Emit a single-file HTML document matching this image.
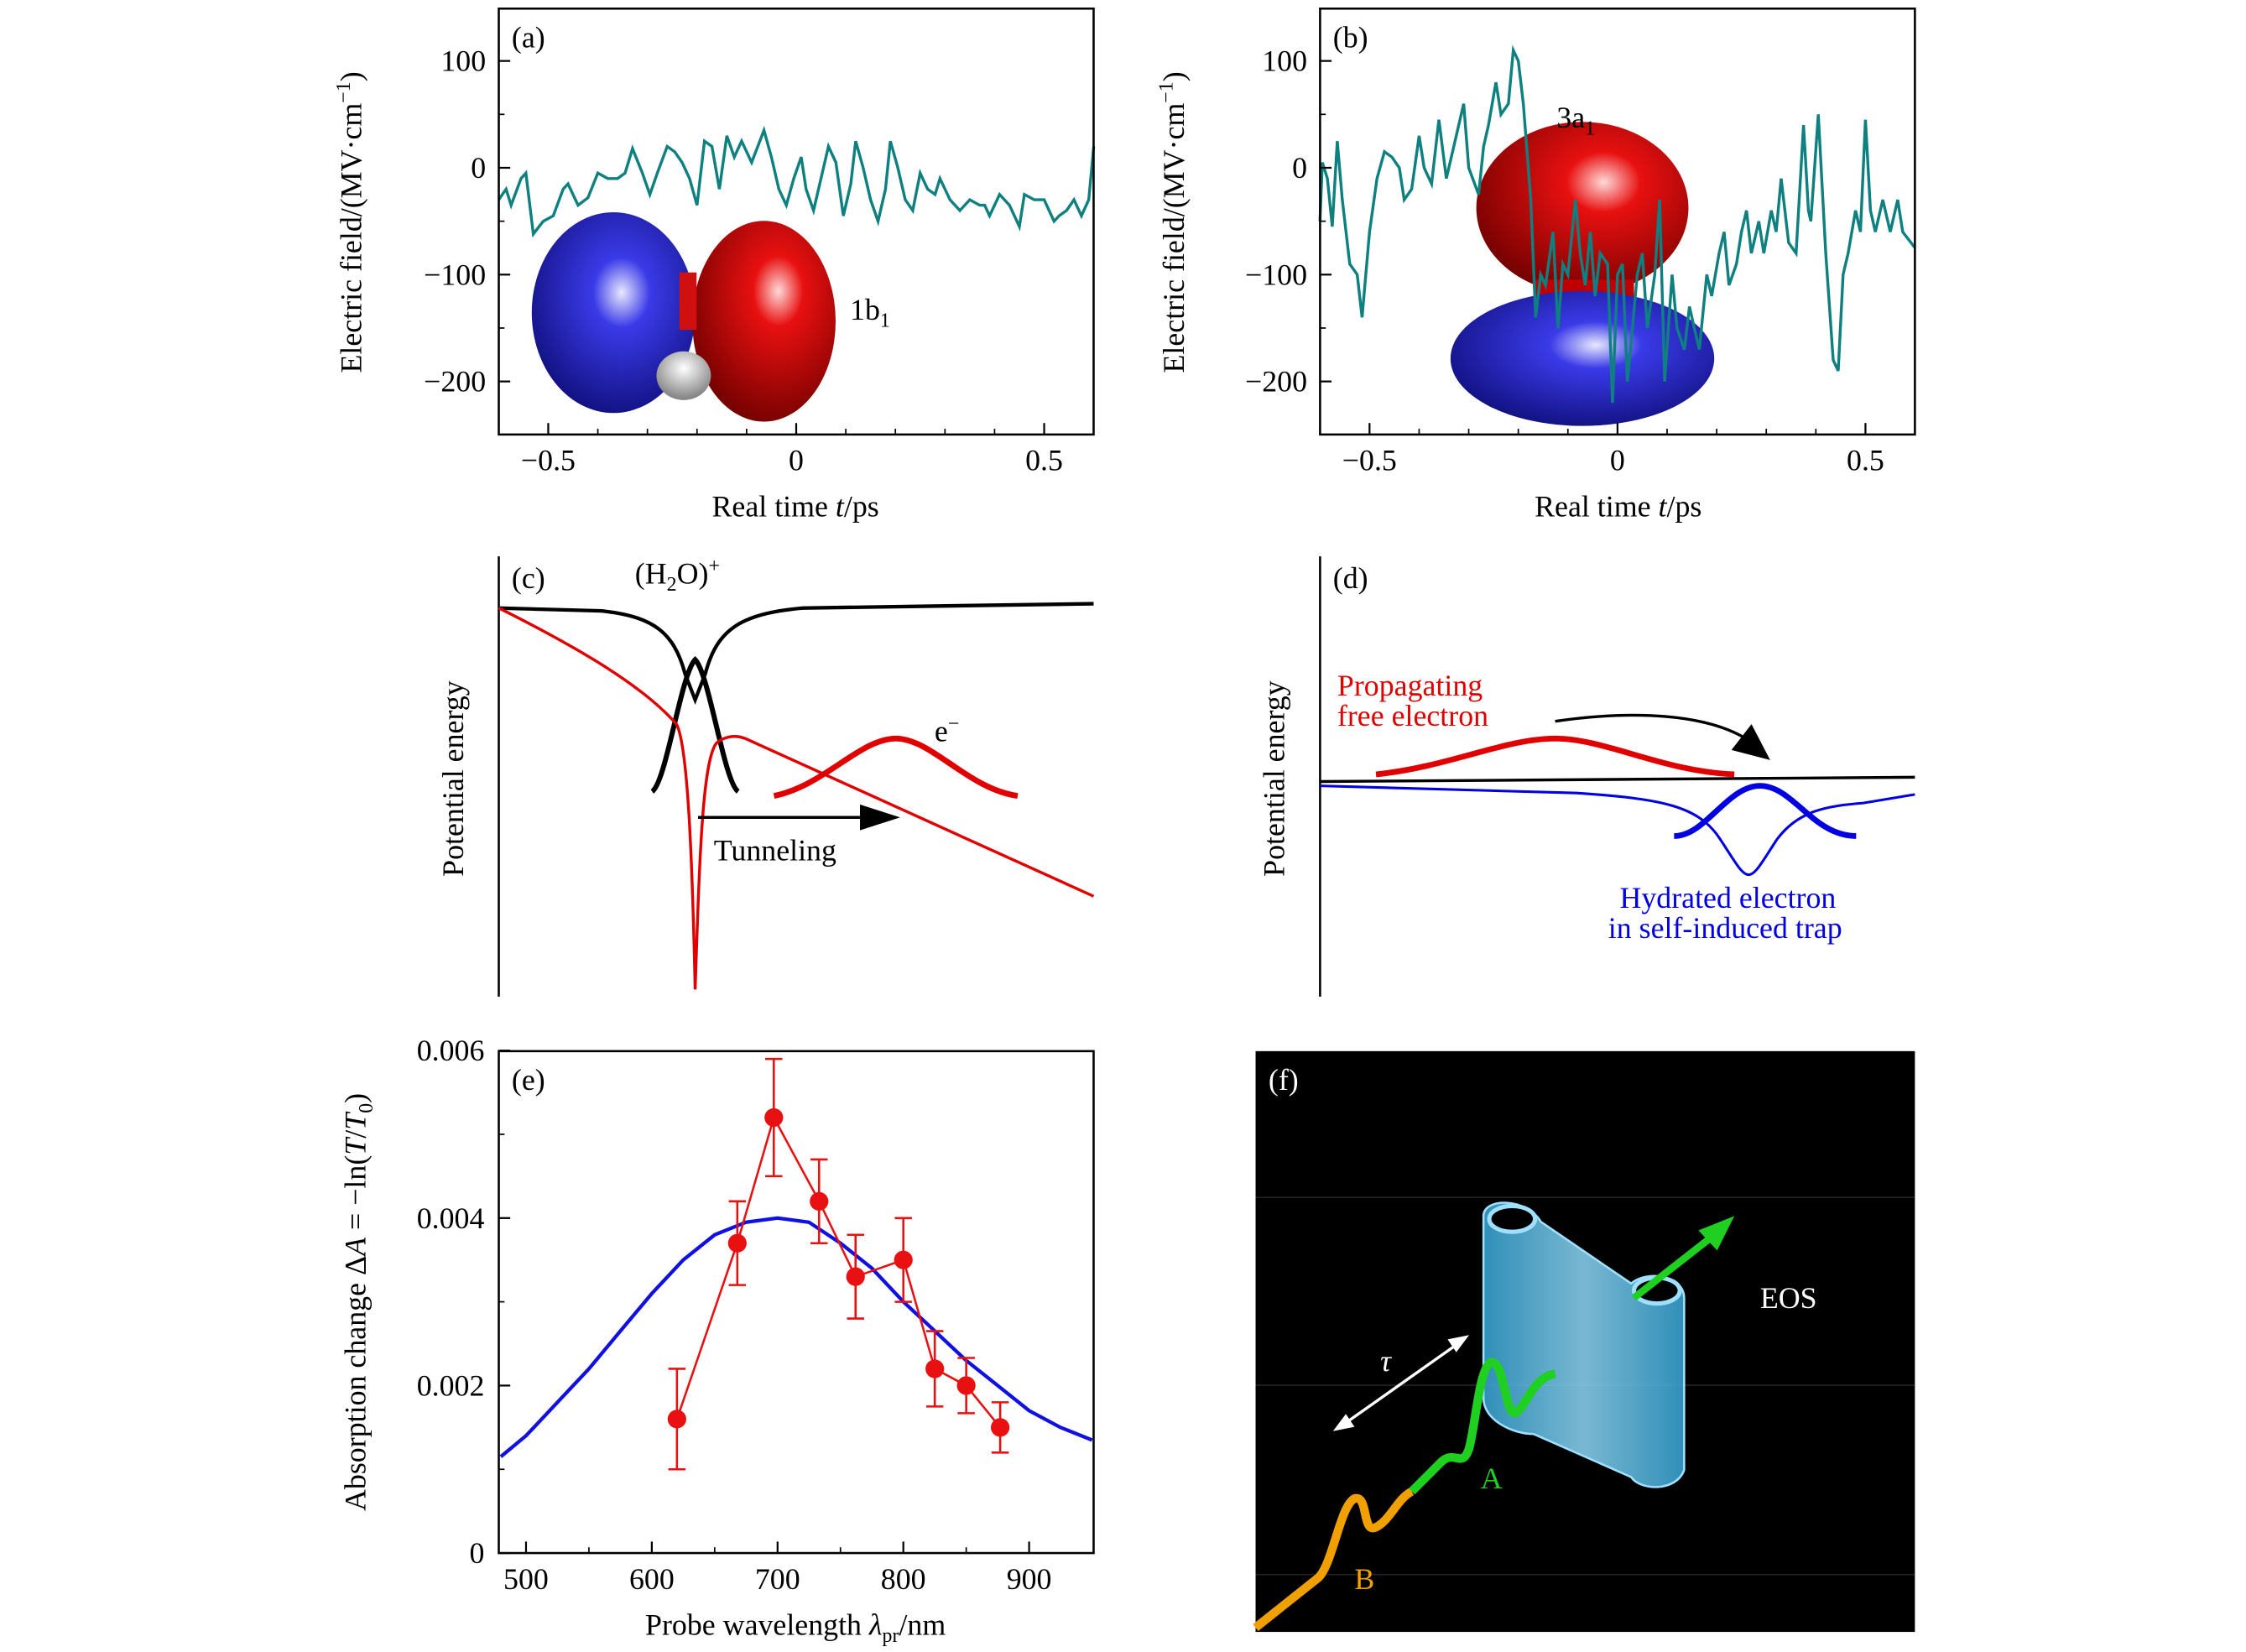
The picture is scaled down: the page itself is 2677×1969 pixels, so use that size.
<!DOCTYPE html>
<html><head><meta charset="utf-8">
<style>
html,body{margin:0;padding:0;background:#fff;}
svg{display:block;font-family:"Liberation Serif",serif;}
</style></head>
<body>
<svg id="fig" width="2677" height="1969" viewBox="0 0 1567 1152" preserveAspectRatio="none" xmlns="http://www.w3.org/2000/svg">
<defs>
<radialGradient id="gBlue" cx="0.55" cy="0.4" r="0.7"><stop offset="0" stop-color="#e8e8ff"/><stop offset="0.25" stop-color="#3a3ae8"/><stop offset="1" stop-color="#0a0a70"/></radialGradient>
<radialGradient id="gRed" cx="0.6" cy="0.35" r="0.7"><stop offset="0" stop-color="#ffd8d8"/><stop offset="0.25" stop-color="#e81010"/><stop offset="1" stop-color="#700000"/></radialGradient>
<radialGradient id="gWhite" cx="0.5" cy="0.35" r="0.6"><stop offset="0" stop-color="#fff"/><stop offset="1" stop-color="#888"/></radialGradient>
<linearGradient id="gCyan" x1="0" x2="1"><stop offset="0" stop-color="#3aa8d8"/><stop offset="0.5" stop-color="#8ed8f8"/><stop offset="1" stop-color="#3aa8d8"/></linearGradient>
</defs>

<!-- Panel A -->
<g>
  <ellipse cx="428" cy="218" rx="57" ry="70" fill="url(#gBlue)"/>
  <ellipse cx="533" cy="224" rx="50" ry="70" fill="url(#gRed)"/>
  <rect x="474" y="190" width="12" height="40" fill="#d01010"/>
  <ellipse cx="477" cy="262" rx="19" ry="17" fill="url(#gWhite)"/>
  <text x="593" y="223" font-size="21">1b<tspan font-size="14" dy="5">1</tspan></text>
  <g id="axA"></g>
  <text x="357" y="33" font-size="21">(a)</text>
  <text x="555" y="360" font-size="21" text-anchor="middle">Real time <tspan font-style="italic">t</tspan>/ps</text>
  <text transform="translate(252,155) rotate(-90)" font-size="21" text-anchor="middle">Electric field/(MV·cm<tspan font-size="14" dy="-8">−1</tspan><tspan dy="8">)</tspan></text>
</g>

<!-- Panel B -->
<g>
  <ellipse cx="1104" cy="145" rx="74" ry="60" fill="url(#gRed)"/>
  <rect x="1070" y="195" width="70" height="18" fill="#c00000"/>
  <ellipse cx="1104" cy="250" rx="92" ry="47" fill="url(#gBlue)"/>
  <text x="1086" y="89" font-size="21">3a<tspan font-size="14" dy="5">1</tspan></text>
  <g id="axB"></g>
  <text x="930" y="33" font-size="21">(b)</text>
  <text x="1129" y="360" font-size="21" text-anchor="middle">Real time <tspan font-style="italic">t</tspan>/ps</text>
  <text transform="translate(826,155) rotate(-90)" font-size="21" text-anchor="middle">Electric field/(MV·cm<tspan font-size="14" dy="-8">−1</tspan><tspan dy="8">)</tspan></text>
</g>

<!-- Panel C -->
<g>
  <line x1="348" y1="388" x2="348" y2="695" stroke="#000" stroke-width="1.5"/>
  <text x="357" y="410" font-size="21">(c)</text>
  <text x="443" y="407" font-size="21">(H<tspan font-size="14" dy="5">2</tspan><tspan dy="-5">O)</tspan><tspan font-size="14" dy="-8">+</tspan></text>
  <path d="M348,424 L420,426 C455,430 470,440 478,470 L485,488 L492,470 C500,440 515,428 560,424 L763,421" fill="none" stroke="#000" stroke-width="2.5"/>
  <path d="M455,552 C465,545 475,470 485,460 C495,470 505,545 515,552" fill="none" stroke="#000" stroke-width="3.5"/>
  <path d="M348,424 C410,455 450,480 472,505 C480,520 483,600 485,690 C488,600 490,530 500,518 C505,514 512,512 520,515 L763,625" fill="none" stroke="#e00000" stroke-width="2"/>
  <path d="M540,555 C575,548 600,515 625,515 C650,515 675,550 710,555" fill="none" stroke="#e00000" stroke-width="4"/>
  <text x="652" y="517" font-size="21">e<tspan font-size="14" dy="-8">−</tspan></text>
  <line x1="487" y1="570" x2="605" y2="570" stroke="#000" stroke-width="2"/>
  <polygon points="628,570 600,561 600,579" fill="#000"/>
  <text x="498" y="600" font-size="21">Tunneling</text>
  <text transform="translate(323,543) rotate(-90)" font-size="21" text-anchor="middle">Potential energy</text>
</g>

<!-- Panel D -->
<g>
  <line x1="921" y1="388" x2="921" y2="695" stroke="#000" stroke-width="1.5"/>
  <text x="930" y="410" font-size="21">(d)</text>
  <line x1="921" y1="545" x2="1336" y2="542" stroke="#000" stroke-width="2"/>
  <path d="M960,540 C1010,535 1050,515 1085,515 C1120,515 1160,538 1210,540" fill="none" stroke="#e00000" stroke-width="4"/>
  <path d="M1085,503 C1140,495 1190,498 1218,515" fill="none" stroke="#000" stroke-width="2"/>
  <polygon points="1235,530 1208,523 1222,505" fill="#000"/>
  <text x="933" y="485" font-size="21" fill="#e00000">Propagating</text>
  <text x="933" y="506" font-size="21" fill="#e00000">free electron</text>
  <path d="M921,548 L1100,553 C1160,557 1185,562 1200,585 C1210,600 1215,610 1220,610 C1225,610 1230,600 1240,585 C1255,565 1275,562 1300,560 L1336,554" fill="none" stroke="#0000e0" stroke-width="1.8"/>
  <path d="M1168,583 C1190,583 1205,548 1228,548 C1251,548 1265,583 1295,583" fill="none" stroke="#0000e0" stroke-width="4"/>
  <text x="1130" y="633" font-size="21" fill="#0000e0">Hydrated electron</text>
  <text x="1122" y="654" font-size="21" fill="#0000e0">in self-induced trap</text>
  <text transform="translate(896,543) rotate(-90)" font-size="21" text-anchor="middle">Potential energy</text>
</g>

<!-- Panel E -->
<g>
  <g id="axE"></g>
  <text x="357" y="760" font-size="21">(e)</text>
  <text x="555" y="1140" font-size="21" text-anchor="middle">Probe wavelength <tspan font-style="italic">λ</tspan><tspan font-size="14" dy="5">pr</tspan><tspan dy="-5">/nm</tspan></text>
  <text transform="translate(255,908) rotate(-90)" font-size="21" text-anchor="middle">Absorption change Δ<tspan font-style="italic">A</tspan> = −ln(<tspan font-style="italic">T</tspan>/<tspan font-style="italic">T</tspan><tspan font-size="14" dy="5">0</tspan><tspan dy="-5">)</tspan></text>
</g>

<!-- Panel F -->
<g>
  <rect x="876" y="733" width="460" height="405" fill="#000"/>
  <line x1="876" y1="835" x2="1336" y2="835" stroke="#222" stroke-width="1"/>
  <line x1="876" y1="966" x2="1336" y2="966" stroke="#222" stroke-width="1"/>
  <line x1="876" y1="1098" x2="1336" y2="1098" stroke="#222" stroke-width="1"/>
  <text x="885" y="760" font-size="21" fill="#fff">(f)</text>
  <path d="M1035,848 L1035,975 C1035,990 1055,1000 1070,1000 L1138,1030 C1145,1040 1170,1040 1175,1025 L1175,905 C1175,890 1150,885 1138,895 L1075,852 C1065,835 1035,835 1035,848 Z" fill="url(#gCyan)" fill-opacity="0.85" stroke="#9fe0ff" stroke-width="1.5"/>
  <ellipse cx="1055" cy="850" rx="16" ry="9" fill="#000" stroke="#9fe0ff" stroke-width="3"/>
  <ellipse cx="1156" cy="900" rx="16" ry="9" fill="#000" stroke="#9fe0ff" stroke-width="3"/>
  <path d="M876,1135 L920,1100 C930,1090 935,1050 945,1045 C955,1042 950,1070 960,1065 C970,1060 975,1045 985,1040" fill="none" stroke="#f0a000" stroke-width="6"/>
  <path d="M985,1040 L1005,1020 C1015,1010 1020,1025 1025,1010 C1030,990 1032,955 1040,950 C1050,948 1050,990 1058,985 C1065,980 1070,960 1085,958" fill="none" stroke="#20d020" stroke-width="6"/>
  <path d="M1140,905 L1195,862" stroke="#20d020" stroke-width="5"/>
  <polygon points="1210,848 1185,858 1198,872" fill="#20d020"/>
  <line x1="935" y1="995" x2="1020" y2="935" stroke="#fff" stroke-width="2"/>
  <polygon points="1025,931 1010,934 1016,943" fill="#fff"/>
  <polygon points="930,998 945,995 939,986" fill="#fff"/>
  <text x="963" y="956" font-size="21" fill="#fff" font-style="italic">τ</text>
  <text x="1228" y="912" font-size="21" fill="#fff">EOS</text>
  <text x="1033" y="1038" font-size="21" fill="#20d020">A</text>
  <text x="945" y="1108" font-size="21" fill="#f0a000">B</text>
</g>
</svg>
<script>
// Panel (a) data
const tA=[-0.6,-0.585,-0.575,-0.555,-0.545,-0.53,-0.51,-0.49,-0.47,-0.46,-0.44,-0.42,-0.4,-0.38,-0.36,-0.345,-0.33,-0.31,-0.295,-0.28,-0.26,-0.245,-0.23,-0.215,-0.2,-0.185,-0.17,-0.155,-0.14,-0.125,-0.11,-0.09,-0.065,-0.05,-0.035,-0.02,-0.005,0.01,0.02,0.035,0.05,0.065,0.08,0.095,0.11,0.12,0.135,0.15,0.165,0.18,0.19,0.205,0.22,0.235,0.25,0.265,0.28,0.29,0.31,0.33,0.35,0.37,0.38,0.39,0.41,0.43,0.45,0.46,0.48,0.5,0.52,0.53,0.545,0.56,0.575,0.59,0.6];
const eA=[-30,-20,-35,-10,-5,-62,-50,-45,-20,-15,-35,-28,-5,-10,-10,-5,18,-5,-25,-5,20,15,5,-10,-35,25,20,-20,30,10,25,5,35,10,-20,-35,-10,10,-20,-40,-10,20,5,-45,-15,25,0,-30,-50,-20,25,0,-30,-40,-5,-20,-25,-10,-30,-40,-30,-35,-35,-45,-25,-35,-55,-25,-30,-30,-50,-45,-40,-30,-45,-30,20];
// Panel (b) data
const tB=[-0.6,-0.595,-0.585,-0.575,-0.565,-0.555,-0.54,-0.525,-0.515,-0.5,-0.485,-0.47,-0.455,-0.44,-0.43,-0.415,-0.4,-0.39,-0.375,-0.36,-0.345,-0.33,-0.31,-0.3,-0.28,-0.27,-0.26,-0.245,-0.235,-0.22,-0.21,-0.2,-0.19,-0.175,-0.165,-0.155,-0.145,-0.13,-0.12,-0.11,-0.1,-0.085,-0.075,-0.065,-0.055,-0.045,-0.035,-0.02,-0.01,0,0.01,0.02,0.03,0.04,0.05,0.06,0.075,0.085,0.095,0.11,0.12,0.135,0.145,0.155,0.165,0.18,0.19,0.205,0.215,0.225,0.24,0.25,0.26,0.27,0.285,0.295,0.31,0.32,0.33,0.345,0.36,0.375,0.385,0.39,0.405,0.42,0.435,0.445,0.455,0.465,0.48,0.49,0.5,0.51,0.52,0.535,0.55,0.565,0.575,0.6];
const eB=[-50,5,-10,-55,25,-30,-90,-100,-140,-60,-10,15,10,0,-30,-20,30,0,-15,45,-10,20,60,0,-25,20,40,80,50,60,110,100,60,-30,-140,-100,-110,-60,-150,-90,-100,-30,-80,-110,-60,-120,-80,-90,-220,-100,-90,-200,-150,-100,-80,-150,-100,-30,-200,-100,-150,-170,-130,-150,-170,-100,-120,-80,-60,-110,-90,-60,-40,-80,-50,-80,-40,-60,-10,-70,-80,40,-40,-50,50,-80,-180,-190,-100,-80,-40,-60,45,-40,-60,-30,-60,-30,-60,-75];
const tTicks=[-0.5,0,0.5];
const tTickLabels=["−0.5","0","0.5"];
const eTicks=[100,0,-100,-200];
const eTickLabels=["100","0","−100","−200"];
// Panel (e) data
const lamFit=[480,500,525,550,575,600,625,650,675,700,725,750,775,800,825,850,875,900,925,950];
const aFit=[0.00115,0.0014,0.0018,0.0022,0.00265,0.0031,0.0035,0.0038,0.00395,0.004,0.00395,0.0037,0.0034,0.003,0.00265,0.0023,0.002,0.0017,0.0015,0.00135];
const lamPts=[620,668,697,733,762,800,825,850,877];
const aPts=[0.0016,0.0037,0.0052,0.0042,0.0033,0.0035,0.0022,0.002,0.0015];
const aErr=[0.0006,0.0005,0.0007,0.0005,0.0005,0.0005,0.00045,0.00033,0.0003];
const lamTicks=[500,600,700,800,900];
const aTicks=[0,0.002,0.004,0.006];
const aTickLabels=["0","0.002","0.004","0.006"];

const NS="http://www.w3.org/2000/svg";
function mk(parent,tag,attrs){const e=document.createElementNS(NS,tag);for(const k in attrs)e.setAttribute(k,attrs[k]);parent.appendChild(e);return e;}

function tracePanel(gid,x0,tt,ee,prefix){
  const g=document.getElementById(gid);
  const X=t=>x0+207.5+t*346, Y=v=>117-v*0.745;
  let d="";tt.forEach((t,i)=>{d+=(i?"L":"M")+X(t).toFixed(1)+","+Y(ee[i]).toFixed(1);});
  const p=mk(g,"path",{d:d,fill:"none",stroke:"#0f8080","stroke-width":"2"});
  
  
  const f=mk(g,"rect",{x:x0,y:6,width:415,height:297,fill:"none",stroke:"#000","stroke-width":"1.5"});
  
  
  tTicks.forEach((t,i)=>{
    mk(g,"line",{x1:X(t),y1:303,x2:X(t),y2:295,stroke:"#000","stroke-width":"1.3"});
    const tx=mk(g,"text",{x:X(t),y:328,"font-size":"21","text-anchor":"middle"});tx.textContent=tTickLabels[i];
    
    
  });
  [-0.4,-0.3,-0.2,-0.1,0.1,0.2,0.3,0.4,-0.6,0.6].forEach(t=>mk(g,"line",{x1:X(t),y1:303,x2:X(t),y2:299,stroke:"#000"}));
  eTicks.forEach((v,i)=>{
    mk(g,"line",{x1:x0,y1:Y(v),x2:x0+8,y2:Y(v),stroke:"#000","stroke-width":"1.3"});
    const tx=mk(g,"text",{x:x0-9,y:Y(v)+7,"font-size":"21","text-anchor":"end"});tx.textContent=eTickLabels[i];
    
    
  });
  [50,-50,-150].forEach(v=>mk(g,"line",{x1:x0,y1:Y(v),x2:x0+4,y2:Y(v),stroke:"#000"}));
}
tracePanel("axA",348,tA,eA,"panel-a");
tracePanel("axB",921,tB,eB,"panel-b");

(function(){
  const g=document.getElementById("axE");
  const X=l=>367+(l-500)*0.8775, Y=a=>1083-a*58400;
  let d="";lamFit.forEach((l,i)=>{d+=(i?"L":"M")+X(l).toFixed(1)+","+Y(aFit[i]).toFixed(1);});
  const p=mk(g,"path",{d:d,fill:"none",stroke:"#1010e0","stroke-width":"2.5"});
  
  
  let d2="";lamPts.forEach((l,i)=>{d2+=(i?"L":"M")+X(l).toFixed(1)+","+Y(aPts[i]).toFixed(1);});
  const pl=mk(g,"path",{d:d2,fill:"none",stroke:"#e81010","stroke-width":"1.5"});
  
  
  lamPts.forEach((l,i)=>{
    const x=X(l),y1=Y(aPts[i]-aErr[i]),y2=Y(aPts[i]+aErr[i]);
    const eb=mk(g,"path",{d:`M${x},${y1}L${x},${y2}M${x-6},${y1}L${x+6},${y1}M${x-6},${y2}L${x+6},${y2}`,stroke:"#e81010","stroke-width":"1.5",fill:"none"});
    
    
    const c=mk(g,"circle",{cx:x,cy:Y(aPts[i]),r:6.5,fill:"#e81010"});
    
    
  });
  const f=mk(g,"rect",{x:348,y:733,width:415,height:350,fill:"none",stroke:"#000","stroke-width":"1.5"});
  
  
  lamTicks.forEach(l=>{
    mk(g,"line",{x1:X(l),y1:1083,x2:X(l),y2:1075,stroke:"#000","stroke-width":"1.3"});
    const tx=mk(g,"text",{x:X(l),y:1108,"font-size":"21","text-anchor":"middle"});tx.textContent=String(l);
    
    
  });
  [550,650,750,850].forEach(l=>mk(g,"line",{x1:X(l),y1:1083,x2:X(l),y2:1079,stroke:"#000"}));
  aTicks.forEach((a,i)=>{
    mk(g,"line",{x1:348,y1:Y(a),x2:356,y2:Y(a),stroke:"#000","stroke-width":"1.3"});
    const tx=mk(g,"text",{x:338,y:Y(a)+7,"font-size":"21","text-anchor":"end"});tx.textContent=aTickLabels[i];
    
    
  });
  [0.001,0.003,0.005].forEach(a=>mk(g,"line",{x1:348,y1:Y(a),x2:352,y2:Y(a),stroke:"#000"}));
})();
</script>
</body></html>
